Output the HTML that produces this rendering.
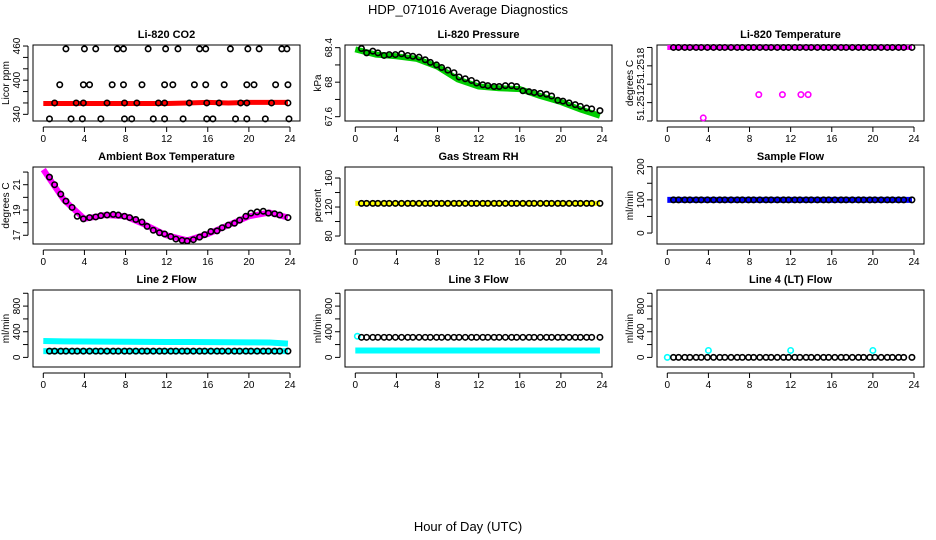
<!DOCTYPE html>
<html><head><meta charset="utf-8"><style>
html,body{margin:0;padding:0;background:#fff;}
svg{display:block;font-family:"Liberation Sans",sans-serif;}
</style></head><body>
<svg id="chart" width="936" height="540" viewBox="0 0 936 540">
<text x="468" y="14" text-anchor="middle" font-size="13">HDP_071016  Average Diagnostics</text>
<text x="468" y="531" text-anchor="middle" font-size="13">Hour of Day (UTC)</text>
</svg>
<script>
const hours = [0.6,1.1,1.7,2.2,2.8,3.3,3.9,4.5,5.1,5.6,6.2,6.8,7.3,7.9,8.4,9.0,9.6,10.1,10.7,11.3,11.8,12.4,12.9,13.5,14.0,14.6,15.2,15.7,16.3,16.9,17.4,18.0,18.6,19.1,19.7,20.2,20.8,21.4,21.9,22.5,23.0,23.8];
const bandHours = [0,2,4,6,8,10,12,14,16,18,20,22,23.8];
const xTicks = [0,4,8,12,16,20,24];

// CO2
const co2Hours455 = [2.2,4.0,5.1,7.2,7.8,10.2,11.9,13.1,15.2,15.8,18.2,19.9,21.0,23.2,23.7];
const co2Hours392 = [1.6,3.9,4.5,6.7,7.8,9.6,11.8,12.6,14.7,15.8,17.6,19.8,20.5,22.6,23.8];
const co2Hours360 = [1.1,3.2,3.9,6.2,7.9,9.1,11.2,11.8,14.2,15.9,17.1,19.2,19.8,22.2,23.8];
const co2Hours332 = [0.6,2.7,3.8,5.6,7.9,8.6,10.7,11.8,13.6,15.9,16.5,18.7,19.8,21.6,23.9];
const co2Band = [359,359,359,359,359,359,359,360,361,360,361,361,361];

// Pressure
const pressure = [68.39,68.34,68.36,68.34,68.31,68.32,68.32,68.33,68.31,68.30,68.29,68.26,68.23,68.20,68.17,68.14,68.11,68.06,68.04,68.02,67.99,67.97,67.96,67.95,67.95,67.96,67.96,67.95,67.90,67.89,67.88,67.87,67.86,67.84,67.79,67.78,67.76,67.74,67.72,67.70,67.69,67.67];
const pressureBand = [68.38,68.32,68.30,68.27,68.18,68.03,67.95,67.93,67.92,67.84,67.77,67.68,67.61];

// Li-820 Temperature
const tempTop = 51.2521;
const tempOutHours = [3.5,8.9,11.2,13.0,13.7];
const tempOutVals = [51.25095,51.25133,51.25133,51.25133,51.25133];

// Ambient
const ambient = [21.6,21.0,20.25,19.7,19.2,18.5,18.3,18.4,18.45,18.55,18.6,18.65,18.6,18.5,18.4,18.25,18.05,17.7,17.4,17.2,17.1,16.9,16.7,16.6,16.55,16.65,16.85,17.05,17.3,17.35,17.6,17.8,17.95,18.2,18.5,18.75,18.85,18.9,18.75,18.7,18.6,18.4];
const ambientBand = [22.2,19.8,18.3,18.6,18.5,17.8,17.0,16.6,17.1,17.8,18.5,18.8,18.4];

// RH, Sample flow
const rhVal = 125;
const sampleVal = 100;
// flows
const line2Black = 98, line2Upper = [255,250,248,246,244,242,240,239,238,236,234,232,215];
const line3Black = 313, line3Lower = 108;
const line4Black = 0, line4OutHours = [4,12,20], line4OutVal = 108;

const svg = document.getElementById('chart');
const NS = 'http://www.w3.org/2000/svg';
function mk(tag, attrs, parent){ const e=document.createElementNS(NS,tag); for(const k in attrs) e.setAttribute(k,attrs[k]); (parent||svg).appendChild(e); return e; }

const colL = [33,345,657];
const rowT = [45,167,290], rowB = [121,244,367];

function panel(c,r,ymin,ymax,yTicks,yLabels,yTitle,title,name){
  const L=colL[c], R=L+267, T=rowT[r], B=rowB[r];
  const g=mk('g',{});
  
  
  const sx=h=>L+10.3+h*(246.7/24);
  const sy=v=>B-(v-ymin)/(ymax-ymin)*(B-T);
  const box=mk('rect',{x:L,y:T,width:R-L,height:B-T,fill:'none',stroke:'#000','stroke-width':1},g);
  
  
  const t=mk('text',{x:(L+R)/2,y:T-7,'text-anchor':'middle','font-size':11,'font-weight':'bold'},g);
  t.textContent=title;
  
  
  const xa=mk('g',{},g);
  
  
  mk('line',{x1:sx(0),x2:sx(24),y1:B+6,y2:B+6,stroke:'#000'},xa);
  xTicks.forEach(v=>{
    mk('line',{x1:sx(v),x2:sx(v),y1:B+6,y2:B+11,stroke:'#000'},xa);
    const tl=mk('text',{x:sx(v),y:B+21,'text-anchor':'middle','font-size':10},xa);
    tl.textContent=v;
  });
  const ya=mk('g',{},g);
  
  
  mk('line',{x1:L-5,x2:L-5,y1:sy(yTicks[0]),y2:sy(yTicks[yTicks.length-1]),stroke:'#000'},ya);
  yTicks.forEach(v=>mk('line',{x1:L-10,x2:L-5,y1:sy(v),y2:sy(v),stroke:'#000'},ya));
  yLabels.forEach(v=>{
    const tl=mk('text',{x:0,y:0,'text-anchor':'middle','font-size':10,transform:`translate(${L-13},${sy(v)}) rotate(-90)`},ya);
    tl.textContent=String(v);
  });
  const yt=mk('text',{x:0,y:0,'text-anchor':'middle','font-size':10,transform:`translate(${L-24},${(T+B)/2}) rotate(-90)`},g);
  yt.textContent=yTitle;
  
  
  return {g,sx,sy};
}
function band(p,hs,vs,color,w,name){
  const pl=mk('polyline',{points:hs.map((h,i)=>p.sx(h)+','+p.sy(vs[i])).join(' '),fill:'none',stroke:color,'stroke-width':w,'stroke-linejoin':'round'},p.g);
  
  
}
function pts(p,hs,vs,color,name){
  const gg=mk('g',{},p.g);
  
  
  hs.forEach((h,i)=>mk('circle',{cx:p.sx(h),cy:p.sy(vs[i]),r:2.7,fill:'none',stroke:color,'stroke-width':1.6},gg));
}
const flat=(n,v)=>Array(n).fill(v);

// Panel 1 CO2
let p=panel(0,0,328.3,461.8,[340,360,380,400,420,440,460],[340,400,460],'Licor ppm','Li-820 CO2','co2');
band(p,bandHours,co2Band,'#f00',5,'co2-band');
pts(p,co2Hours455,flat(15,455),'#000','co2-points-high');
pts(p,co2Hours392,flat(15,392),'#000','co2-points-mid');
pts(p,co2Hours360,flat(15,360),'#000','co2-points-base');
pts(p,co2Hours332,flat(15,332),'#000','co2-points-low');

// Panel 2 Pressure
p=panel(1,0,67.55,68.431,[67.6,67.8,68.0,68.2,68.4],[67.6,68.0,68.4],'kPa','Li-820 Pressure','pressure');
band(p,bandHours,pressureBand,'#0c0',6,'pressure-band');
pts(p,hours,pressure,'#000','pressure-points');

// Panel 3 Temperature
p=panel(2,0,51.2509,51.25214,[51.2521,51.2518,51.2515,51.2512,51.2509],['51.2518','51.2512'],'degrees C','Li-820 Temperature','li820-temp');
band(p,[0,23.8],[tempTop,tempTop],'#f0f',5,'li820-temp-band');
pts(p,hours,flat(hours.length,tempTop),'#000','li820-temp-points');
pts(p,tempOutHours,tempOutVals,'#f0f','li820-temp-outliers');

// Panel 4 Ambient
p=panel(0,1,16.31,22.4,[17,18,19,20,21,22],[17,19,21],'degrees C','Ambient Box Temperature','ambient-temp');
band(p,bandHours,ambientBand,'#f0f',6,'ambient-band');
pts(p,hours,ambient,'#000','ambient-points');

// Panel 5 RH
p=panel(1,1,69,175.2,[80,100,120,140,160],[80,120,160],'percent','Gas Stream RH','rh');
band(p,[0,23.8],[rhVal,rhVal],'#ff0',5,'rh-band');
pts(p,hours,flat(hours.length,rhVal),'#000','rh-points');

// Panel 6 Sample flow
p=panel(2,1,-33,199,[0,50,100,150,200],[0,100,200],'ml/min','Sample Flow','sample-flow');
band(p,[0,23.8],[sampleVal,sampleVal],'#00f',6,'sample-flow-band');
pts(p,hours,flat(hours.length,sampleVal),'#000','sample-flow-points');

// Row 3 flows
const fT=[0,200,400,600,800,1000], fL=[0,400,800];
p=panel(0,2,-150,1051,fT,fL,'ml/min','Line 2 Flow','line2-flow');
band(p,bandHours,line2Upper,'#0ff',6,'line2-upper-band');
band(p,[0,23.8],[line2Black,line2Black],'#0ff',6,'line2-lower-band');
pts(p,hours,flat(hours.length,line2Black),'#000','line2-points');

p=panel(1,2,-150,1051,fT,fL,'ml/min','Line 3 Flow','line3-flow');
band(p,[0,23.8],[line3Lower,line3Lower],'#0ff',6,'line3-lower-band');
pts(p,[0.2],[330],'#0ff','line3-start-point');
pts(p,hours,flat(hours.length,line3Black),'#000','line3-points');

p=panel(2,2,-150,1051,fT,fL,'ml/min','Line 4 (LT) Flow','line4-flow');
pts(p,[0],[0],'#0ff','line4-start-point');
pts(p,hours,flat(hours.length,line4Black),'#000','line4-points');
pts(p,line4OutHours,flat(line4OutHours.length,line4OutVal),'#0ff','line4-outliers');
</script>
</body></html>
